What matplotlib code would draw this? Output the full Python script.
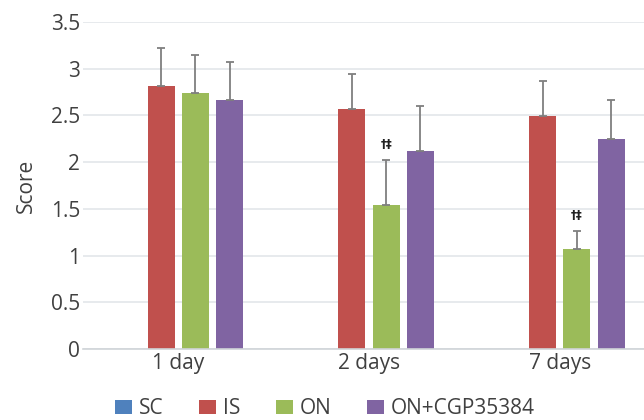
import numpy as np
import matplotlib
matplotlib.use("Agg")
import matplotlib.pyplot as plt

# Score per group and time point (mean, upper SD)
days = ["1 day", "2 days", "7 days"]
groups = ["SC", "IS", "ON", "ON+CGP35384"]
means = {
    "SC":          [0.0, 0.0, 0.0],
    "IS":          [2.82, 2.57, 2.49],
    "ON":          [2.74, 1.54, 1.07],
    "ON+CGP35384": [2.67, 2.12, 2.245],
}
sds = {
    "SC":          [0.0, 0.0, 0.0],
    "IS":          [0.40, 0.37, 0.38],
    "ON":          [0.41, 0.48, 0.19],
    "ON+CGP35384": [0.40, 0.48, 0.425],
}
marks = {"ON": ["", "†‡", "†‡"]}
yticks = [0, 0.5, 1, 1.5, 2, 2.5, 3, 3.5]
ytick_labels = ["0", "0.5", "1", "1.5", "2", "2.5", "3", "3.5"]

colors = {"SC": "#4F81BD", "IS": "#C0504D", "ON": "#9BBB59",
          "ON+CGP35384": "#8064A2"}
TEXT = "#404040"

plt.rcParams["font.family"] = ["Open Sans", "DejaVu Sans"]

fig = plt.figure(figsize=(6.44, 4.2), dpi=100)
ax = fig.add_axes([83 / 644, 71 / 420, 572 / 644, 327 / 420])

x = np.arange(len(days))
w = 0.142
step = 0.18
for k, g in enumerate(groups):
    pos = x + (k - 1.5) * step
    ax.bar(pos, means[g], w, color=colors[g], label=g, zorder=2)
    if g != "SC":
        err = [np.zeros(len(days)), sds[g]]
        ax.errorbar(pos, means[g], yerr=err, fmt="none", ecolor="#7f7f7f",
                    elinewidth=1.3, capsize=3, capthick=1.3, zorder=3)
    for i, m in enumerate(marks.get(g, [])):
        if m:
            ax.text(pos[i], means[g][i] + sds[g][i] + 0.1, m, ha="center",
                    va="bottom", fontsize=8.5, color="#222222",
                    fontweight="bold", family="DejaVu Sans")

ax.set_xlim(-0.5, 2.5)
ax.set_ylim(0, 3.5)
ax.set_yticks(yticks)
ax.set_yticklabels(ytick_labels, fontsize=15, color=TEXT)
ax.set_xticks(x)
ax.set_xticklabels(days, fontsize=15, color=TEXT)
ax.tick_params(length=0)
ax.tick_params(axis="x", pad=3)
ax.tick_params(axis="y", pad=2)
ax.grid(axis="y", color="#e3e6ea", linewidth=1.2, zorder=0)
ax.set_axisbelow(True)
for s in ("top", "right", "left"):
    ax.spines[s].set_visible(False)
ax.spines["bottom"].set_color("#d0d4d8")
ax.spines["bottom"].set_linewidth(1.2)
ax.set_ylabel("Score", fontsize=15, color=TEXT, labelpad=10)

fig.legend(loc="center", bbox_to_anchor=(325 / 644, 11 / 420), ncol=4,
           frameon=False, fontsize=15, handlelength=0.8, handleheight=0.65,
           handletextpad=0.35, columnspacing=1.7, labelcolor=TEXT)

fig.savefig("out.png", dpi=100)
